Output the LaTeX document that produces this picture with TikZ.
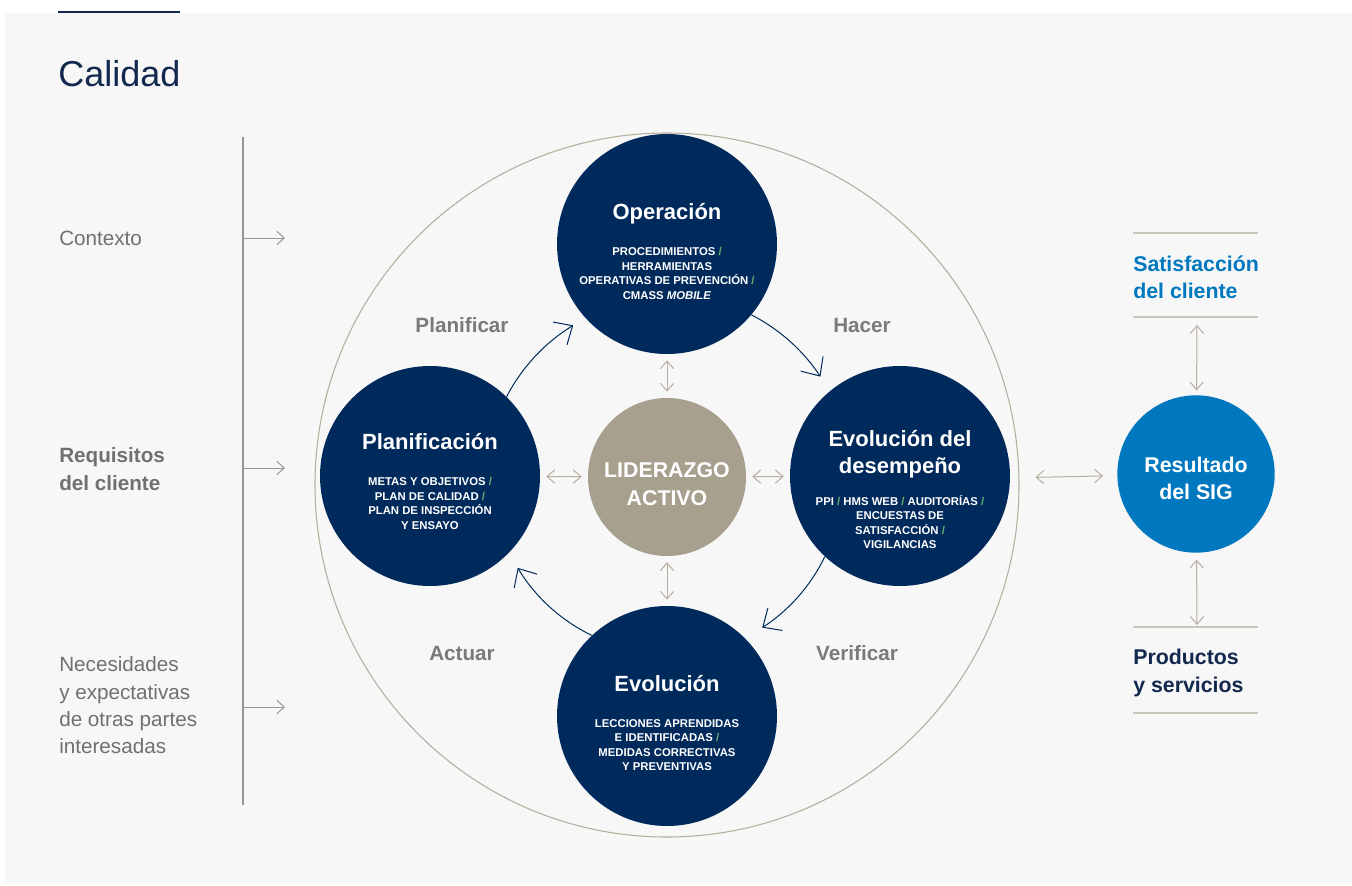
\documentclass[tikz,border=0pt]{standalone}
\usepackage{fontspec}
\setmainfont{Liberation Sans}
\usetikzlibrary{arrows.meta}

\definecolor{navy}{RGB}{0,42,92}
\definecolor{inknavy}{RGB}{18,40,78}
\definecolor{sand}{RGB}{168,160,142}
\definecolor{sandline}{RGB}{182,174,158}
\definecolor{sepline}{RGB}{204,199,189}
\definecolor{sigblue}{RGB}{0,120,192}
\definecolor{txtgrey}{RGB}{112,112,112}
\definecolor{cyclegrey}{RGB}{122,122,122}
\definecolor{axisgrey}{RGB}{150,150,150}
\definecolor{pagebg}{RGB}{247,247,247}
\definecolor{slashgreen}{RGB}{98,176,112}

\newcommand\gsl{\textcolor{slashgreen}{/}}

\tikzset{
  stage/.style={circle, fill=navy, inner sep=0pt, minimum size=165pt},
  stagetitle/.style={inner sep=0pt, align=center, text=white, font=\bfseries\fontsize{16.5}{20}\selectfont},
  stageinfo/.style={inner sep=0pt, align=center, text=white, font=\bfseries\fontsize{8.5}{10.9}\selectfont},
  sidelabel/.style={inner sep=0pt, align=left, text=txtgrey, font=\fontsize{15.5}{20.5}\selectfont},
  cyclelabel/.style={inner sep=0pt, text=cyclegrey, font=\bfseries\fontsize{15.5}{20}\selectfont},
  cyc/.style={draw=navy, line width=0.75pt, -{Straight Barb[length=11pt,width=20pt]}},
  gdbl/.style={draw=sandline, line width=0.75pt, {Straight Barb[length=5.8pt,width=10pt]}-{Straight Barb[length=5.8pt,width=10pt]}},
  inarrow/.style={draw=axisgrey, line width=0.75pt, -{Straight Barb[length=5.5pt,width=10pt]}}
}

\begin{document}
\begin{tikzpicture}[x=0.75pt,y=0.75pt,yscale=-1,xscale=1]
\useasboundingbox (0,0) rectangle (1352,885);
\fill[white] (0,0) rectangle (1352,885);
\fill[pagebg] (5,13) rectangle (1352,883);
\draw[inknavy, line width=1.1pt] (58,12) -- (180,12);

% Title
\node[inner sep=0pt, anchor=base west, text=inknavy, font=\fontsize{27}{30}\selectfont] (title) at (58,86) {Calidad};

% Left inputs
\draw[axisgrey, line width=0.9pt] (243,137) -- (243,805);
\node[sidelabel, anchor=base west] (ctx) at (59,245) {Contexto};
\node[sidelabel, anchor=west, font=\bfseries\fontsize{15.5}{21}\selectfont] (req) at (59,469.5) {Requisitos\\del cliente};
\node[sidelabel, anchor=west] (need) at (59,705.5) {Necesidades\\y expectativas\\de otras partes\\interesadas};
\coordinate (ctxin) at (243,238);
\coordinate (reqin) at (243,468);
\coordinate (needin) at (243,707);
\draw[inarrow] (ctxin) -- ++(42,0);
\draw[inarrow] (reqin) -- ++(42,0);
\draw[inarrow] (needin) -- ++(42,0);

% Cycle
\node[circle, draw=sandline, line width=0.8pt, inner sep=0pt, minimum size=528pt] (ciclo) at (667,485) {};
\node[stage] (oper) at (667,244) {};
\node[stage] (plan) at (430,476) {};
\node[stage] (desemp) at (900,476) {};
\node[stage] (evol) at (667,716) {};
\node[circle, fill=sand, inner sep=0pt, minimum size=118.5pt] (lider) at (667,477) {};

\node[stagetitle, anchor=base] (oper-tit) at (667,219) {Operación};
\node[stageinfo] (oper-txt) at (667,273.5) {PROCEDIMIENTOS \gsl\\HERRAMIENTAS\\OPERATIVAS DE PREVENCIÓN \gsl\\CMASS \textit{MOBILE}};
\node[stagetitle, anchor=base] (plan-tit) at (430,449) {Planificación};
\node[stageinfo] (plan-txt) at (430,503.5) {METAS Y OBJETIVOS \gsl\\PLAN DE CALIDAD \gsl\\PLAN DE INSPECCIÓN\\Y ENSAYO};
\node[stagetitle] (desemp-tit) at (900,454) {Evolución del\\desempeño};
\node[stageinfo] (desemp-txt) at (900,522) {PPI \gsl{} HMS WEB \gsl{} AUDITORÍAS \gsl\\ENCUESTAS DE\\SATISFACCIÓN \gsl\\VIGILANCIAS};
\node[stagetitle, anchor=base] (evol-tit) at (667,691) {Evolución};
\node[stageinfo] (evol-txt) at (667,745) {LECCIONES APRENDIDAS\\E IDENTIFICADAS \gsl\\MEDIDAS CORRECTIVAS\\Y PREVENTIVAS};
\node[stagetitle, font=\bfseries\fontsize{16}{21}\selectfont] (lider-txt) at (667,484) {LIDERAZGO\\ACTIVO};

% PHVA labels
\node[cyclelabel] (planificar) at (462,325) {Planificar};
\node[cyclelabel] (hacer) at (862,325) {Hacer};
\node[cyclelabel] (actuar) at (462,653) {Actuar};
\node[cyclelabel] (verificar) at (857,653) {Verificar};

% cycle arrows
\draw[cyc] (plan.46) arc[start angle=207.5, end angle=238.6, radius=182];
\draw[cyc] (oper.-40) arc[start angle=-62.8, end angle=-33.5, radius=183];
\draw[cyc] (desemp.-133) arc[start angle=25.8, end angle=57, radius=176];
\draw[cyc] (evol.133) arc[start angle=115.7, end angle=149, radius=175];

% leadership links
\draw[gdbl, shorten <=4.5pt, shorten >=4.5pt] (oper) -- (lider);
\draw[gdbl, shorten <=4.5pt, shorten >=4.5pt] (lider) -- (evol);
\draw[gdbl, shorten <=4.5pt, shorten >=4.5pt] (plan) -- (lider);
\draw[gdbl, shorten <=4.5pt, shorten >=4.5pt] (lider) -- (desemp);

% Result
\node[circle, fill=sigblue, inner sep=0pt, minimum size=118pt] (result) at (1196,474) {};
\node[stagetitle, font=\bfseries\fontsize{16}{20.5}\selectfont] (result-txt) at (1196,478.5) {Resultado\\del SIG};
\draw[gdbl, shorten <=12pt, shorten >=10.5pt] (ciclo) -- (result);

\draw[sepline, line width=1.1pt] (1133,233) -- (1258,233);
\draw[sepline, line width=1.1pt] (1133,317) -- (1258,317);
\node[inner sep=0pt, anchor=west, align=left, text=sigblue, font=\bfseries\fontsize{16}{20.5}\selectfont] (satisf) at (1133,277) {Satisfacción\\del cliente};
\draw[sepline, line width=1.1pt] (1133,627) -- (1258,627);
\draw[sepline, line width=1.1pt] (1133,713) -- (1258,713);
\node[inner sep=0pt, anchor=west, align=left, text=inknavy, font=\bfseries\fontsize{16}{20.5}\selectfont] (prod) at (1133,673) {Productos\\y servicios};
\coordinate (satline) at (1197,325);
\coordinate (prodline) at (1197,625);
\draw[gdbl, shorten <=3.5pt] (result) -- (satline);
\draw[gdbl, shorten <=5pt] (result) -- (prodline);

\end{tikzpicture}
\end{document}
